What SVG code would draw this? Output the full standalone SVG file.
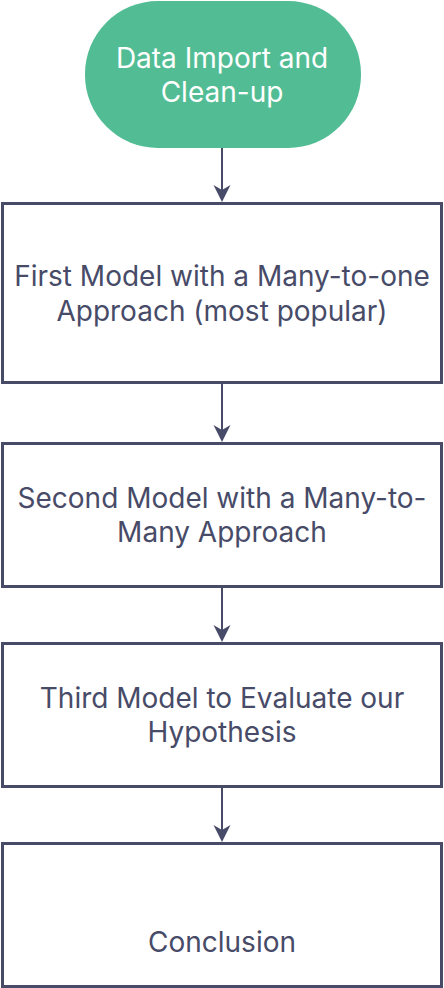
<svg xmlns="http://www.w3.org/2000/svg" width="444" height="988" viewBox="0 0 444 988">
<style>
.box{fill:#ffffff;stroke:#474b68;stroke-width:3}
.t{font-family:Inter,"Noto Sans",sans-serif;font-size:28px;fill:#474b68;text-anchor:middle}
.tw{font-family:Inter,"Noto Sans",sans-serif;font-size:28px;fill:#ffffff;text-anchor:middle}
.c{stroke:#474b68;stroke-width:2;fill:none}
.ah{fill:#474b68}
</style>
<rect width="444" height="988" fill="#ffffff"/>
<g id="connectors">
<line class="c" x1="222" y1="148" x2="222" y2="195"/>
<path class="ah" d="M213.5,185 L222,202 L230.5,185 L222,190 Z"/>
<line class="c" x1="222" y1="383" x2="222" y2="435"/>
<path class="ah" d="M213.5,425 L222,442 L230.5,425 L222,430 Z"/>
<line class="c" x1="222" y1="587" x2="222" y2="635"/>
<path class="ah" d="M213.5,625 L222,642 L230.5,625 L222,630 Z"/>
<line class="c" x1="222" y1="787" x2="222" y2="835"/>
<path class="ah" d="M213.5,825 L222,842 L230.5,825 L222,830 Z"/>
</g>
<g id="n1">
<rect x="85" y="1" width="276" height="147" rx="73" fill="#52bd94"/>
<text class="tw" x="222" y="68">Data Import and</text>
<text class="tw" x="222" y="102">Clean-up</text>
</g>
<g id="n2">
<rect class="box" x="2.5" y="203.5" width="439" height="179"/>
<text class="t" x="222" y="286">First Model with a Many-to-one</text>
<text class="t" x="222" y="321">Approach (most popular)</text>
</g>
<g id="n3">
<rect class="box" x="2.5" y="443.5" width="439" height="143"/>
<text class="t" x="222" y="508">Second Model with a Many-to-</text>
<text class="t" x="222" y="542">Many Approach</text>
</g>
<g id="n4">
<rect class="box" x="2.5" y="643.5" width="439" height="143"/>
<text class="t" x="222" y="708">Third Model to Evaluate our</text>
<text class="t" x="222" y="742">Hypothesis</text>
</g>
<g id="n5">
<rect class="box" x="2.5" y="843.5" width="439" height="143"/>
<text class="t" x="222" y="952">Conclusion</text>
</g>
</svg>
